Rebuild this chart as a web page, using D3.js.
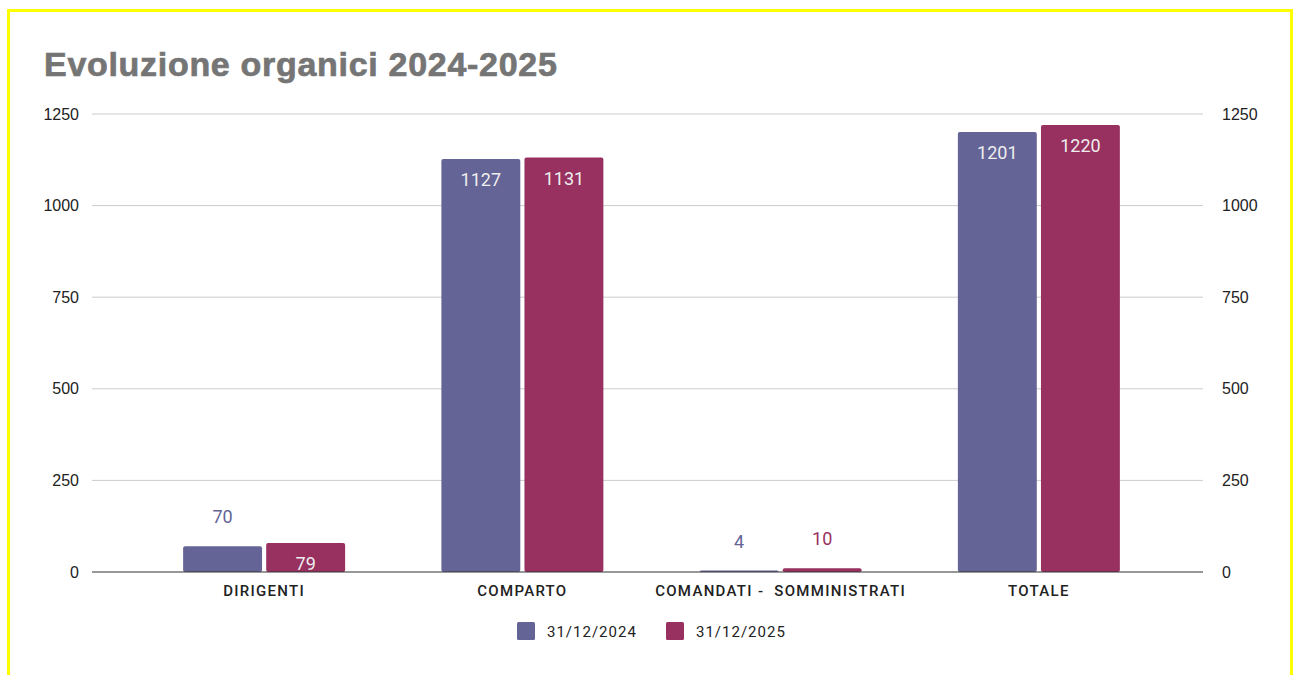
<!DOCTYPE html>
<html>
<head>
<meta charset="utf-8">
<script src="https://cdn.jsdelivr.net/npm/d3@7"></script>
<style>
  html, body { margin: 0; padding: 0; background: #fff; }
  .frame { position: absolute; left: 7px; top: 9px; width: 1286px; height: 700px; border: 3px solid #ffff00; box-sizing: border-box; }
  svg { position: absolute; left: 0; top: 0; }
</style>
</head>
<body>
<div class="frame"></div>
<div id="chart"></div>
<script>
// data
const categories = ['DIRIGENTI', 'COMPARTO', 'COMANDATI -  SOMMINISTRATI', 'TOTALE'];
const seriesNames = ['31/12/2024', '31/12/2025'];
const values2024 = [70, 1127, 4, 1201];
const values2025 = [79, 1131, 10, 1220];
const yTicks = [0, 250, 500, 750, 1000, 1250];

const colors = ['#646497', '#983060'];

const W = 1294, H = 675;
const plot = { left: 92, right: 1203, top: 114, bottom: 572 };

const svg = d3.select('#chart')
  .append('svg')
  .attr('width', W)
  .attr('height', H);

// title
svg.append('text')
  .attr('x', 44)
  .attr('y', 76)
  .style('font-family', '"Liberation Sans", Arial, sans-serif')
  .style('font-weight', 'bold')
  .style('font-size', '34px')
  .style('letter-spacing', '0.7px')
  .style('fill', '#757575')
  .style('stroke', '#757575')
  .style('stroke-width', 0.7)
  .text('Evoluzione organici 2024-2025');

var yScale = d3.scaleLinear()
  .domain([0, 1250])
  .range([plot.bottom, plot.top]);

var xScale = d3.scaleBand()
  .domain(categories)
  .range([135, 1168])
  .paddingInner(0)
  .paddingOuter(0);

var xSub = d3.scaleBand()
  .domain(seriesNames)
  .range([0, 162])
  .paddingInner(0.05);

// gridlines
svg.append('g')
  .selectAll('line')
  .data(yTicks.filter(d => d > 0))
  .enter()
  .append('line')
  .attr('x1', plot.left)
  .attr('x2', plot.right)
  .attr('y1', d => yScale(d))
  .attr('y2', d => yScale(d))
  .style('stroke', '#cccccc')
  .style('stroke-width', 1);

// left / right axes (labels only)
const axisLeft = svg.append('g')
  .attr('transform', `translate(${plot.left}, 0)`)
  .call(d3.axisLeft(yScale).tickValues(yTicks).tickFormat(d3.format('d')).tickSize(0).tickPadding(13));
const axisRight = svg.append('g')
  .attr('transform', `translate(${plot.right}, 0)`)
  .call(d3.axisRight(yScale).tickValues(yTicks).tickFormat(d3.format('d')).tickSize(0).tickPadding(19));
[axisLeft, axisRight].forEach(a => {
  a.select('.domain').remove();
  a.selectAll('text')
    .style('font-family', '"Liberation Sans", Arial, sans-serif')
    .style('font-size', '16px')
    .style('fill', '#222');
});

// bars
const rows = categories.map((c, i) => ({ cat: c, vals: [values2024[i], values2025[i]] }));

const groups = svg.selectAll('.group')
  .data(rows)
  .enter()
  .append('g')
  .attr('class', 'group')
  .attr('transform', d => `translate(${xScale(d.cat) + xScale.bandwidth() / 2 - 81}, 0)`);

groups.selectAll('rect')
  .data(d => d.vals.map((v, j) => ({ v: v, s: seriesNames[j], j: j })))
  .enter()
  .append('rect')
  .attr('x', d => xSub(d.s))
  .attr('y', d => yScale(d.v))
  .attr('width', xSub.bandwidth())
  .attr('height', d => Math.max(1.5, plot.bottom - yScale(d.v)))
  .attr('rx', 2)
  .style('fill', d => colors[d.j]);

// value labels: inside the bar when it fits, above it otherwise
groups.selectAll('.val')
  .data(d => d.vals.map((v, j) => ({ v: v, s: seriesNames[j], j: j })))
  .enter()
  .append('text')
  .attr('class', 'val')
  .attr('x', d => xSub(d.s) + xSub.bandwidth() / 2)
  .attr('y', d => {
    const h = plot.bottom - yScale(d.v);
    return h > 27 ? yScale(d.v) + 27 : yScale(d.v) - 23;
  })
  .attr('text-anchor', 'middle')
  .style('font-family', 'Roboto, sans-serif')
  .style('font-size', '18px')
  .style('fill', d => (plot.bottom - yScale(d.v) > 27) ? '#eeeeee' : colors[d.j])
  .text(d => d.v);

// baseline
svg.append('line')
  .attr('x1', plot.left)
  .attr('x2', plot.right)
  .attr('y1', plot.bottom)
  .attr('y2', plot.bottom)
  .style('stroke', '#333')
  .style('stroke-width', 1.2);

// category labels
svg.append('g')
  .selectAll('text')
  .data(categories)
  .enter()
  .append('text')
  .attr('x', d => xScale(d) + xScale.bandwidth() / 2)
  .attr('y', 596)
  .attr('text-anchor', 'middle')
  .style('font-family', 'Roboto, sans-serif')
  .style('font-weight', 500)
  .style('font-size', '15px')
  .style('letter-spacing', '1.3px')
  .style('white-space', 'pre')
  .style('fill', '#222')
  .text(d => d);

// legend
const legendX = [517, 666];
const legend = svg.selectAll('.legend')
  .data(seriesNames)
  .enter()
  .append('g')
  .attr('class', 'legend')
  .attr('transform', (d, i) => `translate(${legendX[i]}, 622)`);
legend.append('rect')
  .attr('width', 18)
  .attr('height', 18)
  .attr('rx', 1.5)
  .style('fill', (d, i) => colors[i]);
legend.append('text')
  .attr('x', 30)
  .attr('y', 15)
  .style('font-family', 'Roboto, sans-serif')
  .style('font-size', '15px')
  .style('letter-spacing', '1px')
  .style('fill', '#222')
  .text(d => d);
</script>
</body>
</html>
